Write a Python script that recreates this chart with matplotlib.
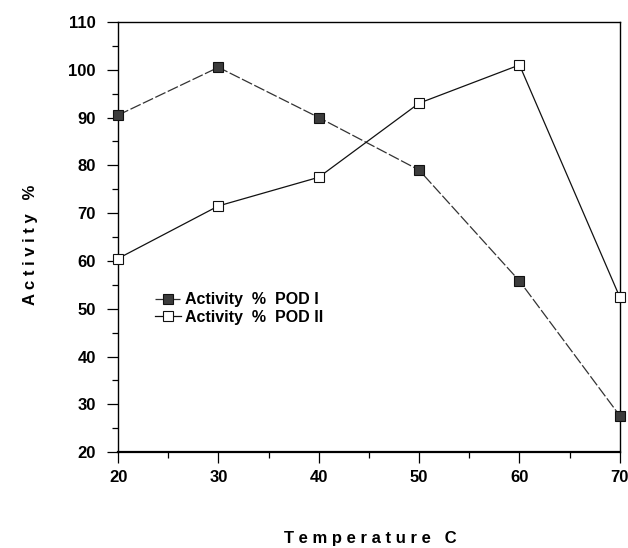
import matplotlib.pyplot as plt
from matplotlib.ticker import MultipleLocator

plt.rcParams['font.family'] = ['Liberation Sans', 'DejaVu Sans']

# temperature (C) and activity (%)
temperature = [20, 30, 40, 50, 60, 70]
pod_1 = [90.5, 100.5, 90.0, 79.0, 55.8, 27.6]
pod_2 = [60.5, 71.5, 77.5, 93.0, 101.0, 52.4]

fig = plt.figure(figsize=(6.28, 5.48), dpi=100)
ax = fig.add_axes([0.188, 0.175, 0.799, 0.785])

ax.plot(temperature, pod_1, color='#333333', lw=0.9, ls=(0, (9, 2)),
        marker='s', ms=7.5, mfc='#3c3c3c', mec='#111111', mew=0.8,
        label='Activity  %  POD I', clip_on=False, zorder=3)
ax.plot(temperature, pod_2, color='#111111', lw=0.9,
        marker='s', ms=7.5, mfc='white', mec='#111111', mew=0.8,
        label='Activity  %  POD II', clip_on=False, zorder=3)

ax.set_xlim(20, 70)
ax.set_ylim(20, 110)
ax.xaxis.set_major_locator(MultipleLocator(10))
ax.xaxis.set_minor_locator(MultipleLocator(5))
ax.yaxis.set_major_locator(MultipleLocator(10))
ax.yaxis.set_minor_locator(MultipleLocator(5))

ax.tick_params(which='major', direction='out', length=8, width=0.9,
               labelsize=12)
ax.tick_params(which='minor', direction='out', length=4, width=0.9)
ax.tick_params(axis='x', pad=5)
ax.tick_params(axis='y', pad=8)
for lab in ax.get_xticklabels() + ax.get_yticklabels():
    lab.set_fontweight('bold')

for s in ax.spines.values():
    s.set_linewidth(1.0)
ax.spines['bottom'].set_linewidth(1.6)

fig.text(0.59, 1 - 538 / 548, 'T e m p e r a t u r e   C', fontsize=12,
         fontweight='bold', ha='center', va='center')
fig.text(30 / 628, 1 - 245 / 548, 'A c t i v i t y   %', fontsize=12,
         fontweight='bold', ha='center', va='center', rotation=90)

ax.legend(loc='upper left', bbox_to_anchor=(0.045, 0.405), frameon=False,
          handlelength=1.6, handletextpad=0.3, labelspacing=0.15,
          prop={'weight': 'bold', 'size': 11.5})

fig.savefig('out.png', dpi=100)
